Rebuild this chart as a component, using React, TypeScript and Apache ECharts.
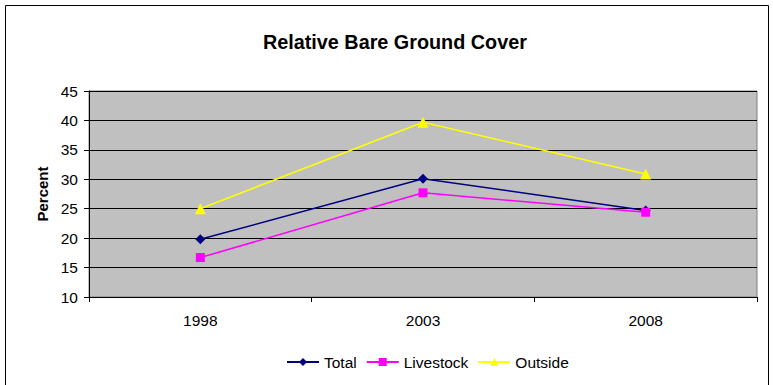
import React, { useEffect, useRef } from "react";
import * as echarts from "echarts";

const categories = ["1998", "2003", "2008"];
const totalValues = [19.8, 30.1, 24.7];
const livestockValues = [16.7, 27.7, 24.4];
const outsideValues = [25.0, 39.7, 30.9];
const seriesNames = ["Total", "Livestock", "Outside"];

export default function App() {
  const ref = useRef<HTMLDivElement>(null);
  useEffect(() => {
    const chart = echarts.init(ref.current!, null, { renderer: "svg" });
    const font = "Liberation Sans, Arial, sans-serif";
    chart.setOption({
      animation: false,
      textStyle: { fontFamily: font },
      graphic: [
        {
          type: "rect",
          z: -10,
          shape: { x: 5.5, y: 5.5, width: 763, height: 390 },
          style: { fill: "#fff", stroke: "#000", lineWidth: 1 },
        },
      ],
      title: {
        text: "Relative Bare Ground Cover",
        left: 258,
        top: 27,
        textStyle: { fontFamily: font, fontSize: 19.8, fontWeight: "bold", color: "#000" },
      },
      legend: {
        bottom: 10,
        left: 281,
        itemWidth: 32,
        itemHeight: 10,
        itemGap: 9,
        data: seriesNames,
        textStyle: { fontFamily: font, fontSize: 15.5, color: "#000" },
      },
      grid: {
        left: 89,
        right: 16,
        top: 91,
        bottom: 88,
        show: true,
        backgroundColor: "#C0C0C0",
        borderColor: "#808080",
        borderWidth: 1,
      },
      xAxis: {
        type: "category",
        data: categories,
        boundaryGap: true,
        axisLine: { lineStyle: { color: "#000" } },
        axisTick: { show: true, interval: 0, length: 5, lineStyle: { color: "#000" } },
        axisLabel: { fontFamily: font, fontSize: 15.5, color: "#000", margin: 15 },
      },
      yAxis: {
        type: "value",
        min: 10,
        max: 45,
        interval: 5,
        name: "Percent",
        nameLocation: "middle",
        nameGap: 39,
        nameTextStyle: { fontFamily: font, fontSize: 15, fontWeight: "bold", color: "#000" },
        axisLine: { show: true, lineStyle: { color: "#000" } },
        axisTick: { show: true, length: 5, lineStyle: { color: "#000" } },
        axisLabel: { fontFamily: font, fontSize: 15.5, color: "#000", margin: 11 },
        splitLine: { show: true, lineStyle: { color: "#000", width: 1 } },
      },
      series: [
        {
          name: "Total",
          type: "line",
          data: totalValues,
          symbol: "diamond",
          symbolSize: 10,
          color: "#000080",
          lineStyle: { width: 1.5, color: "#000080" },
          itemStyle: { color: "#000080" },
          z: 3,
        },
        {
          name: "Livestock",
          type: "line",
          data: livestockValues,
          symbol: "rect",
          symbolSize: 9,
          color: "#FF00FF",
          lineStyle: { width: 1.5, color: "#FF00FF" },
          itemStyle: { color: "#FF00FF" },
          z: 4,
        },
        {
          name: "Outside",
          type: "line",
          data: outsideValues,
          symbol: "triangle",
          symbolSize: 11,
          color: "#FFFF00",
          lineStyle: { width: 1.5, color: "#FFFF00" },
          itemStyle: { color: "#FFFF00" },
          z: 2,
        },
      ],
    });
    return () => chart.dispose();
  }, []);
  return (
    <div
      ref={ref}
      style={{ position: "absolute", left: 0, top: 0, width: 773, height: 385 }}
    />
  );
}
